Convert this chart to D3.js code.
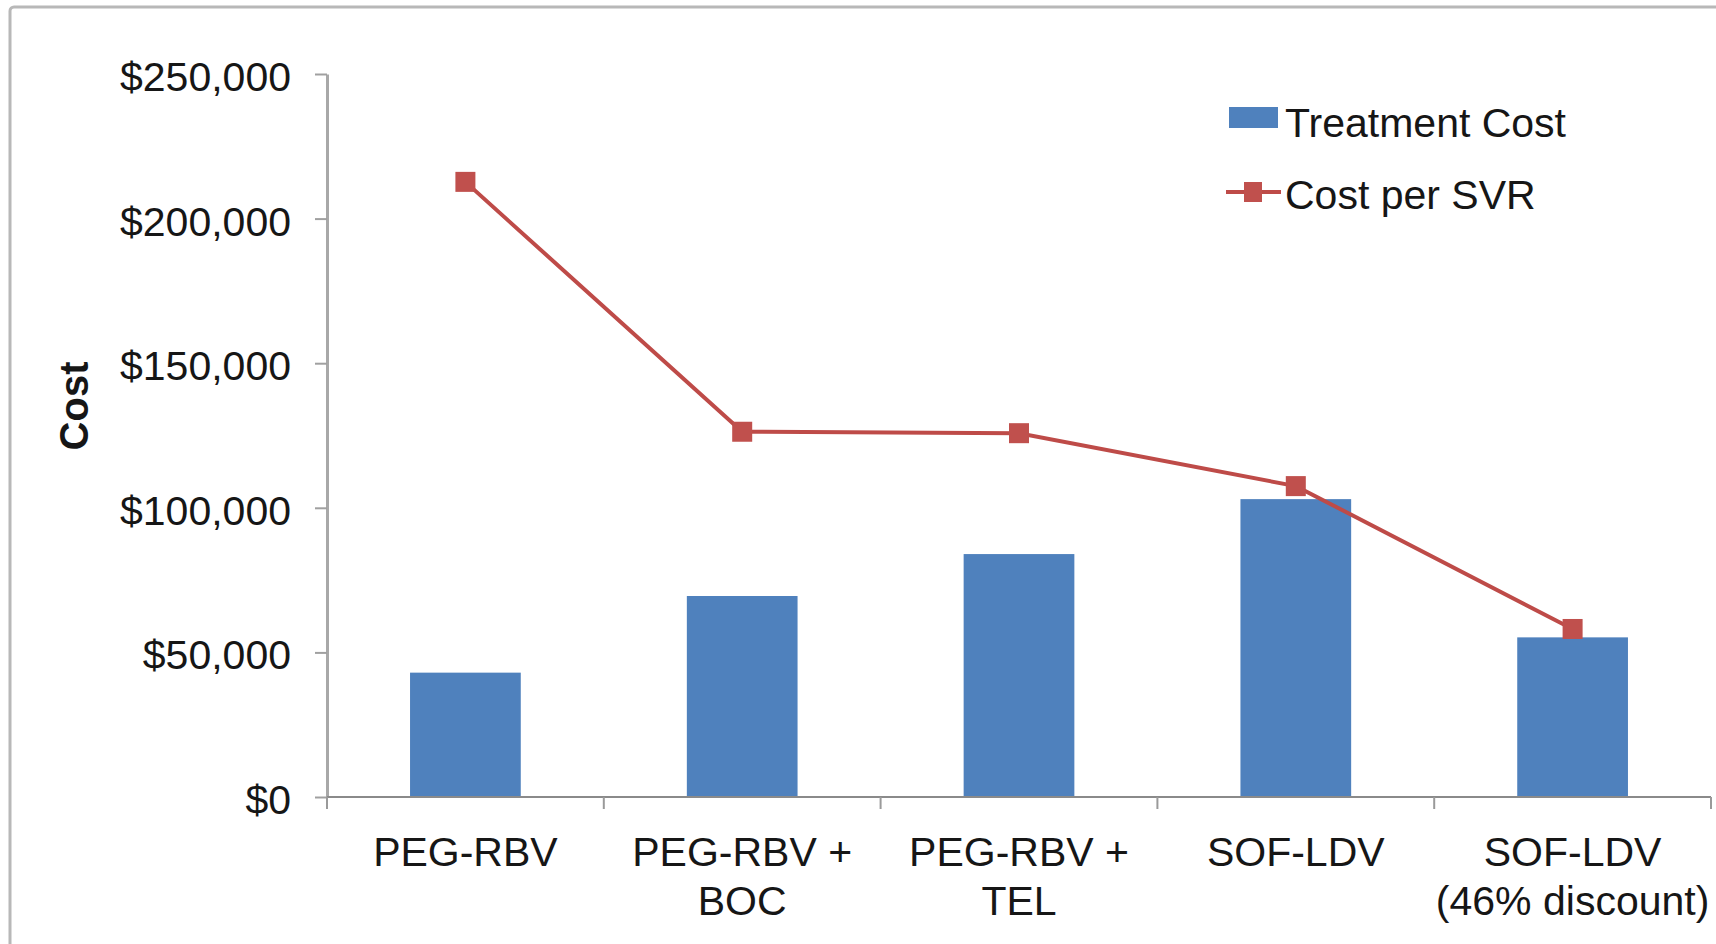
<!DOCTYPE html>
<html>
<head>
<meta charset="utf-8">
<script src="https://cdn.jsdelivr.net/npm/d3@7"></script>
<style>
  html, body { margin: 0; padding: 0; background: #ffffff; }
  svg { display: block; }
  text { font-family: "Liberation Sans", Arial, Helvetica, sans-serif; fill: #161616; }
</style>
</head>
<body>
<svg id="chart" width="1716" height="944"></svg>
<script>
// ---- data ----
const categories = ["PEG-RBV", "PEG-RBV + BOC", "PEG-RBV + TEL", "SOF-LDV", "SOF-LDV (46% discount)"];
const categoryLines = [["PEG-RBV"], ["PEG-RBV +", "BOC"], ["PEG-RBV +", "TEL"], ["SOF-LDV"], ["SOF-LDV", "(46% discount)"]];
const treatmentCost = [43000, 69500, 84000, 103000, 55200];
const costPerSVR = [212700, 126300, 125800, 107500, 58100];
const yTicks = [0, 50000, 100000, 150000, 200000, 250000];
const seriesNames = ["Treatment Cost", "Cost per SVR"];
const yTitle = "Cost";

// ---- layout ----
const W = 1716, H = 944;
const plot = { left: 327, right: 1711, top: 74, bottom: 797 };
const barColor = "#4F81BD";
const lineColor = "#BE4B48";
const markerColor = "#C0504D";
const fontSize = 41;

const svg = d3.select("#chart");

// outer frame
svg.append("rect")
  .attr("x", 10).attr("y", 7)
  .attr("width", W + 40).attr("height", H + 40)
  .attr("rx", 4)
  .attr("fill", "#ffffff")
  .attr("stroke", "#b8b8b8")
  .attr("stroke-width", 3);

const x = d3.scaleBand().domain(categories).range([plot.left, plot.right]).padding(0);
const y = d3.scaleLinear().domain([0, 250000]).range([plot.bottom, plot.top]);
const barW = x.bandwidth() * 0.4;

// ---- y axis ----
const yAxis = d3.axisLeft(y)
  .tickValues(yTicks)
  .tickSize(12)
  .tickSizeOuter(0)
  .tickPadding(24)
  .tickFormat(d => "$" + d3.format(",")(d));

const gy = svg.append("g")
  .attr("transform", `translate(${plot.left},0)`)
  .call(yAxis);
gy.select(".domain").attr("stroke", "#a8a8a8").attr("stroke-width", 3);
gy.selectAll(".tick line").attr("stroke", "#a0a0a0").attr("stroke-width", 2);
gy.selectAll(".tick text")
  .attr("font-size", fontSize)
  .attr("dy", "0.4em")
  .style("font-family", "'Liberation Sans', Arial, sans-serif")
  .attr("fill", "#161616");

// ---- bars ----
svg.append("g").selectAll("rect")
  .data(categories)
  .join("rect")
  .attr("x", (d) => x(d) + x.bandwidth() / 2 - barW / 2)
  .attr("width", barW)
  .attr("y", (d, i) => y(treatmentCost[i]))
  .attr("height", (d, i) => y(0) - y(treatmentCost[i]))
  .attr("fill", barColor);

// ---- x axis ----
const gx = svg.append("g");
gx.append("line")
  .attr("x1", plot.left).attr("x2", plot.right)
  .attr("y1", y(0)).attr("y2", y(0))
  .attr("stroke", "#8a8a8a").attr("stroke-width", 2);
const boundaries = categories.map(c => x(c)).concat([x.range()[1]]);
gx.selectAll("line.tk")
  .data(boundaries)
  .join("line")
  .attr("class", "tk")
  .attr("x1", d => d).attr("x2", d => d)
  .attr("y1", y(0)).attr("y2", y(0) + 12)
  .attr("stroke", "#9a9a9a").attr("stroke-width", 2);

const labels = gx.selectAll("text.cat")
  .data(categories)
  .join("text")
  .attr("class", "cat")
  .attr("text-anchor", "middle")
  .attr("font-size", fontSize);
labels.each(function (d, i) {
  const t = d3.select(this);
  categoryLines[i].forEach((ln, j) => {
    t.append("tspan")
      .attr("x", x(d) + x.bandwidth() / 2)
      .attr("y", y(0) + 69 + j * 49)
      .text(ln);
  });
});

// ---- line series ----
const line = d3.line()
  .x((d, i) => x(categories[i]) + x.bandwidth() / 2)
  .y(d => y(d));
svg.append("path")
  .datum(costPerSVR)
  .attr("d", line)
  .attr("fill", "none")
  .attr("stroke", lineColor)
  .attr("stroke-width", 4);

const mk = 20;
svg.append("g").selectAll("rect")
  .data(costPerSVR)
  .join("rect")
  .attr("x", (d, i) => x(categories[i]) + x.bandwidth() / 2 - mk / 2)
  .attr("y", d => y(d) - mk / 2)
  .attr("width", mk).attr("height", mk)
  .attr("fill", markerColor);

// ---- y title ----
svg.append("text")
  .attr("transform", "translate(88,406) rotate(-90)")
  .attr("text-anchor", "middle")
  .attr("font-size", 40)
  .attr("font-weight", "bold")
  .text(yTitle);

// ---- legend ----
const lg = svg.append("g");
lg.append("rect")
  .attr("x", 1229).attr("y", 107)
  .attr("width", 49).attr("height", 21)
  .attr("fill", barColor);
lg.append("text")
  .attr("x", 1285).attr("y", 137)
  .attr("font-size", fontSize)
  .text(seriesNames[0]);
lg.append("line")
  .attr("x1", 1226).attr("x2", 1281)
  .attr("y1", 192).attr("y2", 192)
  .attr("stroke", lineColor).attr("stroke-width", 4);
lg.append("rect")
  .attr("x", 1253 - 9).attr("y", 192 - 10)
  .attr("width", 18).attr("height", 20)
  .attr("fill", markerColor);
lg.append("text")
  .attr("x", 1285).attr("y", 209)
  .attr("font-size", fontSize)
  .text(seriesNames[1]);
</script>
</body>
</html>
